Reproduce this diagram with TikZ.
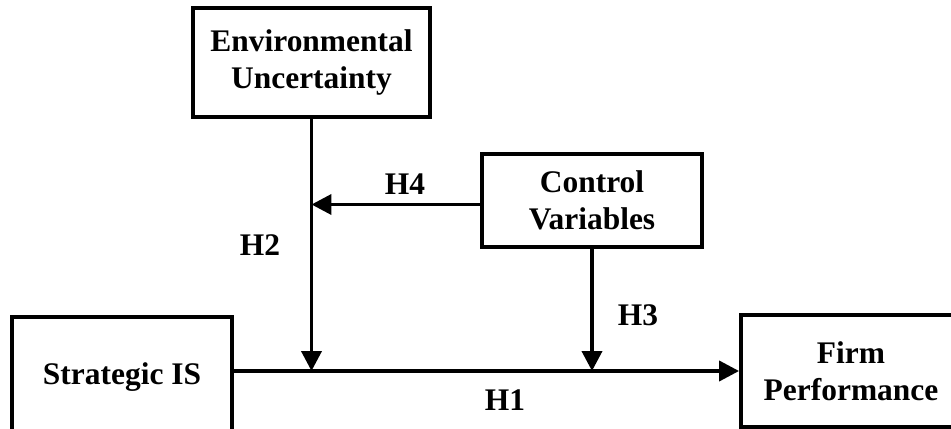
\documentclass[tikz,border=0pt]{standalone}
\usepackage{fontspec}
\setmainfont{Liberation Serif}
\usetikzlibrary{arrows.meta}

\tikzset{
	varbox/.style={draw, line width=2.2pt, align=center, inner sep=0pt,
		font=\bfseries\fontsize{17.9}{21}\selectfont},
	conn/.style={line width=2.2pt, -{Triangle[length=0.4cm,width=0.4cm]}},
	hyp/.style={font=\bfseries\fontsize{17.9}{21}\selectfont}
}

\begin{document}
\begin{tikzpicture}[x=0.02cm,y=-0.02cm]
		\clip (0,0) rectangle (951,429);
		
		%Variables
		\node[varbox, minimum width=4.74cm, minimum height=2.18cm] (env) at (311.5,62.5) {Environmental\\Uncertainty};
		\node[varbox, minimum width=4.4cm, minimum height=1.86cm] (ctrl) at (592,200.5) {Control\\Variables};
		\node[varbox, minimum width=4.4cm, minimum height=2.4cm] (sis) at (122,377) {Strategic IS};
		\node[varbox, minimum width=4.4cm, minimum height=2.24cm] (fp) at (851,371) {Firm\\Performance};
		
		%Paths
		\coordinate (h4s) at ([yshift=-0.08cm]ctrl.west);
		\draw[conn] (sis.east |- fp.west) -- (fp.west);
		\draw[conn] (env.south) -- (env.south |- fp.west);
		\draw[conn] (ctrl.south) -- (ctrl.south |- fp.west);
		\draw[conn] (h4s) -- (h4s -| env.south);
		
		%Hypotheses
		\node[hyp] (h1) at (505,400) {H1};
		\node[hyp] (h2) at (260,245) {H2};
		\node[hyp] (h3) at (638,315) {H3};
		\node[hyp] (h4) at (405,184) {H4};
		
\end{tikzpicture}
\end{document}
